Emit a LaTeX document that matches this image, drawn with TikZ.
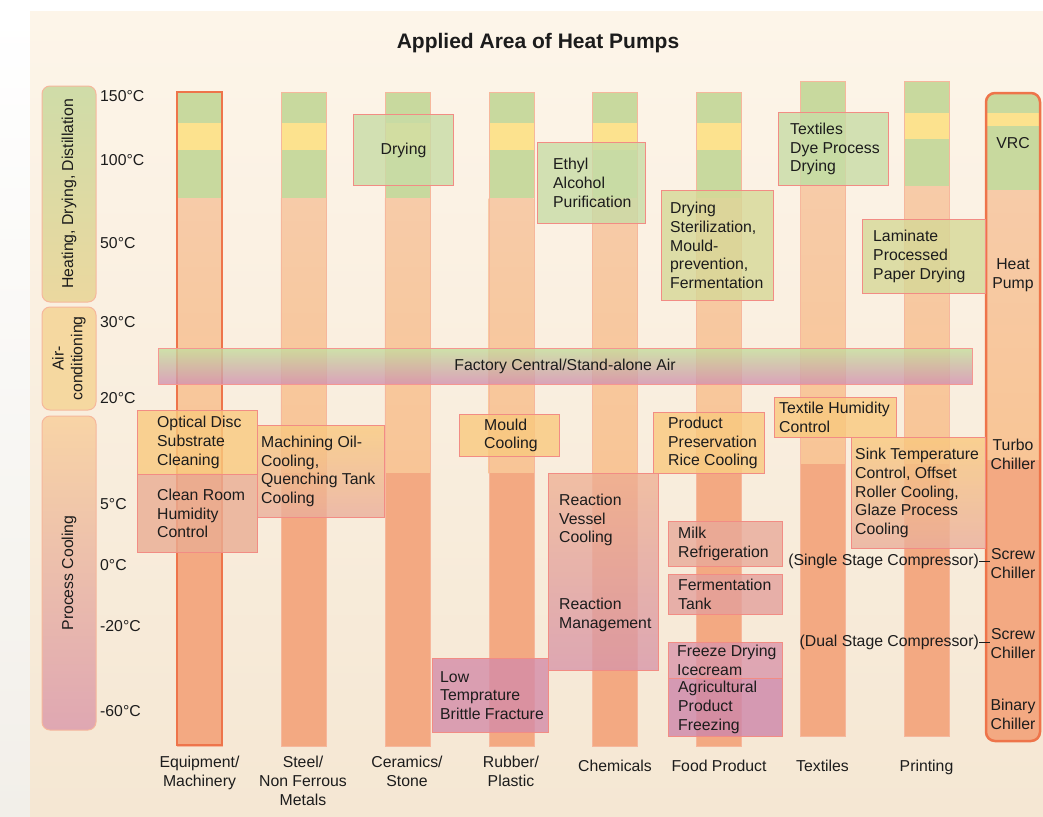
\documentclass[tikz,border=0pt]{standalone}
\usepackage{fontspec}
\setmainfont{Liberation Sans}
\usetikzlibrary{positioning}

\definecolor{paper}{HTML}{FDF5E9}
\definecolor{paperlow}{HTML}{F5E7D3}
\definecolor{margin}{HTML}{F2EFE9}
\definecolor{leaf}{HTML}{C8D99E}
\definecolor{sun}{HTML}{FCE28E}
\definecolor{peach}{HTML}{F7CBA8}
\definecolor{peachlow}{HTML}{F8C596}
\definecolor{salmon}{HTML}{F3A982}
\definecolor{barline}{HTML}{F6B79C}
\definecolor{hotline}{HTML}{EE744A}
\definecolor{boxline}{HTML}{F28C84}
\definecolor{greenbox}{HTML}{C8DCA6}
\definecolor{olivebox}{HTML}{D6D897}
\definecolor{orangebox}{HTML}{F9C97E}
\definecolor{rosebox}{HTML}{EAAD93}
\definecolor{rosebot}{HTML}{EAAE9C}
\definecolor{mauvetop}{HTML}{EFB395}
\definecolor{mauve}{HTML}{D796A9}
\definecolor{milkbox}{HTML}{E8AA9A}
\definecolor{fermbox}{HTML}{E3A09C}
\definecolor{freezebox}{HTML}{D996AA}
\definecolor{agribox}{HTML}{CD86AA}
\definecolor{lowbox}{HTML}{D48CA8}
\definecolor{airtop}{HTML}{C4DE9C}
\definecolor{airmid}{HTML}{F7CA83}
\definecolor{airbot}{HTML}{D390B0}
\definecolor{heattop}{HTML}{CFDCA8}
\definecolor{heatbot}{HTML}{EBD89F}
\definecolor{aircat}{HTML}{F5D8A0}
\definecolor{cooltop}{HTML}{F8D4A6}
\definecolor{coolbot}{HTML}{DFA7B2}
\definecolor{ink}{HTML}{1C1C1C}

\newcommand{\tagfont}{\fontsize{15.8}{18.8}\selectfont}

\tikzset{
	app/.style={draw=boxline, line width=1pt, fill opacity=0.8, anchor=north west, inner sep=0},
	apptext/.style={align=left, inner sep=0, font=\tagfont, text=ink},
	catbox/.style={draw=barline, line width=1pt, rounded corners=8pt, inner sep=0, minimum width=54},
	plain/.style={inner sep=0, font=\tagfont, text=ink},
}

\begin{document}
\begin{tikzpicture}[x=1pt,y=-1pt]
	\useasboundingbox (0,0) rectangle (1043,816);
	\fill[white] (0,0) rectangle (1043,816);
	\shade[top color=white, bottom color=margin] (0,12) rectangle (30,816);
	\shade[top color=paper, bottom color=paperlow] (30,12) rectangle (1043,816);

	\node[font=\fontsize{21}{25}\selectfont\bfseries, text=ink] (title) at (538,43) {Applied Area of Heat Pumps};

	% groups on the left
	\node[catbox, minimum height=216, top color=heattop, bottom color=heatbot] (heat) at (69,194) {};
	\node[catbox, minimum height=103, fill=aircat] (aircon) at (69,358.5) {};
	\node[catbox, minimum height=314, top color=cooltop, bottom color=coolbot] (cool) at (69,573) {};
	\node[plain, rotate=90] at (heat) {Heating, Drying, Distillation};
	\node[plain, rotate=90, align=center] at (aircon) {Air-\\conditioning};
	\node[plain, rotate=90] at (cool) {Process Cooling};

	\foreach \t/\y in {150/96, 100/160, 50/243, 30/322, 20/398, 5/504, 0/565, -20/626, -60/711}
		\node[plain, anchor=west] (t\t) at (100,\y) {\t°C};

	% columns
	\foreach \i in {0,...,5} {
		\begin{scope}[xshift=\i*103.9pt]
			\fill[leaf] (177,92) rectangle (222,198);
			\fill[sun] (177,123) rectangle (222,150);
			\shade[top color=peach, bottom color=peachlow] (177,198) rectangle (222,473);
			\fill[salmon] (177,473) rectangle (222,746);
			\draw[barline] (177,92) rectangle (222,746);
		\end{scope}
	}
	\draw[hotline, line width=2.5pt] (177,92) rectangle (222,745);

	\fill[leaf] (800,81) rectangle (845,185);
	\shade[top color=peach, bottom color=peachlow] (800,185) rectangle (845,464);
	\fill[salmon] (800,464) rectangle (845,736);
	\draw[barline] (800,81) rectangle (845,736);

	\fill[leaf] (904,81) rectangle (949,186);
	\fill[sun] (904,113) rectangle (949,139);
	\shade[top color=peach, bottom color=peachlow] (904,186) rectangle (949,464);
	\fill[salmon] (904,464) rectangle (949,736);
	\draw[barline] (904,81) rectangle (949,736);

	\begin{scope}
		\clip[rounded corners=9pt] (986,93) rectangle (1040,741);
		\fill[leaf] (986,93) rectangle (1040,190);
		\fill[sun] (986,113) rectangle (1040,126);
		\shade[top color=peach, bottom color=peachlow] (986,190) rectangle (1040,460);
		\fill[salmon] (986,460) rectangle (1040,741);
	\end{scope}
	\draw[hotline, line width=2.5pt, rounded corners=9pt] (986,93) rectangle (1040,741);

	\node[plain] (vrc) at (1013,143) {VRC};
	\node[plain, align=center] (hp) at (1013,275.5) {Heat\\Pump};
	\node[plain, align=center] (turbo) at (1013,454.5) {Turbo\\Chiller};
	\node[plain, align=center] (screwA) at (1013,563.5) {Screw\\Chiller};
	\node[plain, align=center] (screwB) at (1013,643.5) {Screw\\Chiller};
	\node[plain, align=center] (binary) at (1013,714.5) {Binary\\Chiller};

	% air conditioning band
	\node[draw=boxline!80!pink, line width=1pt, minimum width=814, minimum height=36, inner sep=0,
		top color=airtop, middle color=airmid, bottom color=airbot,
		fill opacity=0.8, text opacity=1, font=\tagfont, text=ink] (air) at (565,366) {Factory Central/Stand-alone Air};

	% application boxes
	\node[app, fill=greenbox, minimum width=100, minimum height=71] (dry) at (353,114) {};
	\node[app, fill=greenbox, minimum width=108, minimum height=81] (ethyl) at (537,142) {};
	\node[app, fill=olivebox, minimum width=112, minimum height=110] (drster) at (661,190) {};
	\node[app, fill=greenbox, minimum width=110, minimum height=73] (dye) at (778,112) {};
	\node[app, fill=olivebox, minimum width=123, minimum height=74] (lam) at (862,219) {};
	\node[app, fill=orangebox, minimum width=120, minimum height=64] (optic) at (137,410) {};
	\node[app, fill=rosebox, minimum width=120, minimum height=78] (clean) at (137,474) {};
	\node[app, top color=orangebox, bottom color=rosebot, minimum width=127, minimum height=92] (mach) at (257,425) {};
	\node[app, fill=orangebox, minimum width=100, minimum height=42] (mould) at (459,414) {};
	\node[app, fill=orangebox, minimum width=111, minimum height=61] (prod) at (653,412) {};
	\node[app, fill=orangebox, minimum width=122, minimum height=40] (thum) at (774,397) {};
	\node[app, top color=orangebox, bottom color=rosebot, minimum width=134, minimum height=111] (sink) at (851,437) {};
	\node[app, top color=mauvetop, bottom color=mauve, minimum width=110, minimum height=197] (react) at (548,473) {};
	\node[app, fill=milkbox, minimum width=114, minimum height=45] (milk) at (668,521) {};
	\node[app, fill=fermbox, minimum width=114, minimum height=40] (ferm) at (668,574) {};
	\node[app, fill=freezebox, minimum width=114, minimum height=36] (freeze) at (668,642) {};
	\node[app, fill=agribox, minimum width=114, minimum height=58] (agri) at (668,678) {};
	\node[app, fill=lowbox, minimum width=116, minimum height=74] (low) at (432,658) {};

	\node[apptext] (drytext) at (dry) {Drying};
	\node[apptext, right=16pt of ethyl.west] (ethyltext) {Ethyl\\Alcohol\\Purification};
	\node[apptext, right=9pt of drster.west] (drstertext) {Drying\\Sterilization,\\Mould-\\prevention,\\Fermentation};
	\node[apptext, right=12pt of dye.west] (dyetext) {Textiles\\Dye Process\\Drying};
	\node[apptext, right=11pt of lam.west] (lamtext) {Laminate\\Processed\\Paper Drying};
	\node[apptext, right=20pt of optic.west] (optictext) {Optical Disc\\Substrate\\Cleaning};
	\node[apptext, right=20pt of clean.west] (cleantext) {Clean Room\\Humidity\\Control};
	\node[apptext, right=4pt of mach.west] (machtext) {Machining Oil-\\Cooling,\\Quenching Tank\\Cooling};
	\node[apptext, right=25pt of mould.west] (mouldtext) {Mould\\Cooling};
	\node[apptext, right=15pt of prod.west] (prodtext) {Product\\Preservation\\Rice Cooling};
	\node[apptext, right=5pt of thum.west] (thumtext) {Textile Humidity\\Control};
	\node[apptext, right=4pt of sink.west] (sinktext) {Sink Temperature\\Control, Offset\\Roller Cooling,\\Glaze Process\\Cooling};
	\node[apptext, anchor=west] (vessel) at ([shift={(11,47)}]react.north west) {Reaction\\Vessel\\Cooling};
	\node[apptext, anchor=west] (manage) at ([shift={(11,142)}]react.north west) {Reaction\\Management};
	\node[apptext, right=10pt of milk.west] (milktext) {Milk\\Refrigeration};
	\node[apptext, right=10pt of ferm.west] (fermtext) {Fermentation\\Tank};
	\node[apptext, right=9pt of freeze.west] (freezetext) {Freeze Drying\\Icecream};
	\node[apptext, right=10pt of agri.west] (agritext) {Agricultural\\Product\\Freezing};
	\node[apptext, right=8pt of low.west] (lowtext) {Low\\Temprature\\Brittle Fracture};

	% compressors
	\node[plain, anchor=east] (single) at (979,561) {(Single Stage Compressor)};
	\node[plain, anchor=east] (dual) at (979,642) {(Dual Stage Compressor)};
	\draw[ink, line width=0.8pt]
		(single.east) -- (screwA.west |- single.east)
		(dual.east) -- (screwB.west |- dual.east)
	;

	% industries
	\node[plain, align=center, anchor=north] (equip) at (199.5,756) {Equipment/\\Machinery};
	\node[plain, align=center, anchor=north] (steel) at (303,756) {Steel/\\Non Ferrous\\Metals};
	\node[plain, align=center, anchor=north] (ceram) at (407,756) {Ceramics/\\Stone};
	\node[plain, align=center, anchor=north] (rubber) at (511,756) {Rubber/\\Plastic};
	\node[plain, anchor=north] (chem) at (615,760) {Chemicals};
	\node[plain, anchor=north] (food) at (719,760) {Food Product};
	\node[plain, anchor=north] (textile) at (822.5,760) {Textiles};
	\node[plain, anchor=north] (print) at (926.5,760) {Printing};
\end{tikzpicture}
\end{document}
